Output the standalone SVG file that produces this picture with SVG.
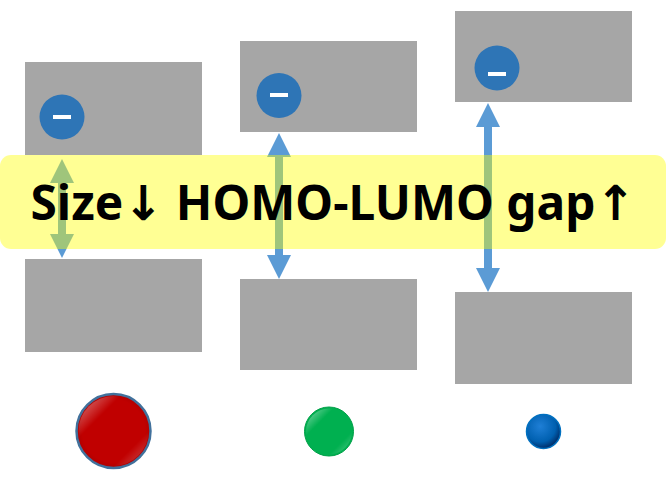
<svg xmlns="http://www.w3.org/2000/svg" width="666" height="477" viewBox="0 0 666 477">
<defs>
<style>
.lvl{fill:#A6A6A6}
.el{fill:#2E75B6}
.minus{fill:#FFFFFF}
.arr{fill:#5B9BD5}
.title{font-family:"Noto Sans","Open Sans","DejaVu Sans",sans-serif;font-weight:bold;font-size:48px;fill:#000}
.ga{font-family:"DejaVu Sans",sans-serif;font-weight:bold}
</style>
<radialGradient id="gRed" cx="0.5" cy="0.5" r="0.5">
<stop offset="0" stop-color="#C00000"/><stop offset="0.85" stop-color="#C00000"/><stop offset="1" stop-color="#B00000"/>
</radialGradient>
<linearGradient id="shine" x1="0" y1="0" x2="1" y2="1">
<stop offset="0" stop-color="#fff" stop-opacity="0.55"/>
<stop offset="0.3" stop-color="#fff" stop-opacity="0"/>
<stop offset="0.75" stop-color="#fff" stop-opacity="0"/>
<stop offset="1" stop-color="#fff" stop-opacity="0.35"/>
</linearGradient>
<radialGradient id="gBlue" cx="0.4" cy="0.35" r="0.65">
<stop offset="0" stop-color="#1F7FD6"/><stop offset="0.7" stop-color="#0060B0"/><stop offset="1" stop-color="#002F6C"/>
</radialGradient>
</defs>

<g id="col1">
<rect class="lvl" x="25" y="62" width="177" height="93"/>
<rect class="lvl" x="25" y="259" width="177" height="93"/>
<circle class="el" cx="62" cy="117" r="22.5"/>
<rect class="minus" x="53" y="115" width="18" height="4"/>
</g>
<g id="col2">
<rect class="lvl" x="240" y="41" width="177" height="91"/>
<rect class="lvl" x="240" y="279" width="177" height="91"/>
<circle class="el" cx="279" cy="95.5" r="22.5"/>
<rect class="minus" x="270" y="93" width="18" height="4"/>
</g>
<g id="col3">
<rect class="lvl" x="455" y="11" width="177" height="91"/>
<rect class="lvl" x="455" y="292" width="177" height="92"/>
<circle class="el" cx="497" cy="68" r="22.5"/>
<rect class="minus" x="488" y="72" width="18" height="4"/>
</g>

<g id="connectors">
<path class="arr" d="M62 159 L74 183 L66 183 L66 234 L74 234 L62 258 L50 234 L58 234 L58 183 L50 183 Z"/>
<path class="arr" d="M279 133 L291 157 L283 157 L283 255 L291 255 L279 279 L267 255 L275 255 L275 157 L267 157 Z"/>
<path class="arr" d="M488 103 L500 127 L492 127 L492 268 L500 268 L488 292 L476 268 L484 268 L484 127 L476 127 Z"/>
</g>

<g id="banner">
<rect x="0" y="155" width="666" height="94" rx="11" ry="11" fill="#FFFF00" fill-opacity="0.42"/>
<text class="title" x="333" y="220" text-anchor="middle" textLength="605" lengthAdjust="spacingAndGlyphs">Size<tspan class="ga">↓</tspan> HOMO-LUMO gap<tspan class="ga">↑</tspan></text>
</g>

<g id="particles">
<circle cx="113.5" cy="431" r="37" fill="url(#gRed)" stroke="#41719C" stroke-width="2.5"/>
<circle cx="113.5" cy="431" r="35" fill="url(#shine)"/>
<circle cx="329" cy="431.5" r="24.5" fill="#00B050" stroke="#00A048" stroke-width="1"/>
<circle cx="329" cy="431.5" r="23" fill="url(#shine)"/>
<circle cx="543.5" cy="431.5" r="17" fill="url(#gBlue)" stroke="#0070C0" stroke-width="1.5"/>
</g>
</svg>
